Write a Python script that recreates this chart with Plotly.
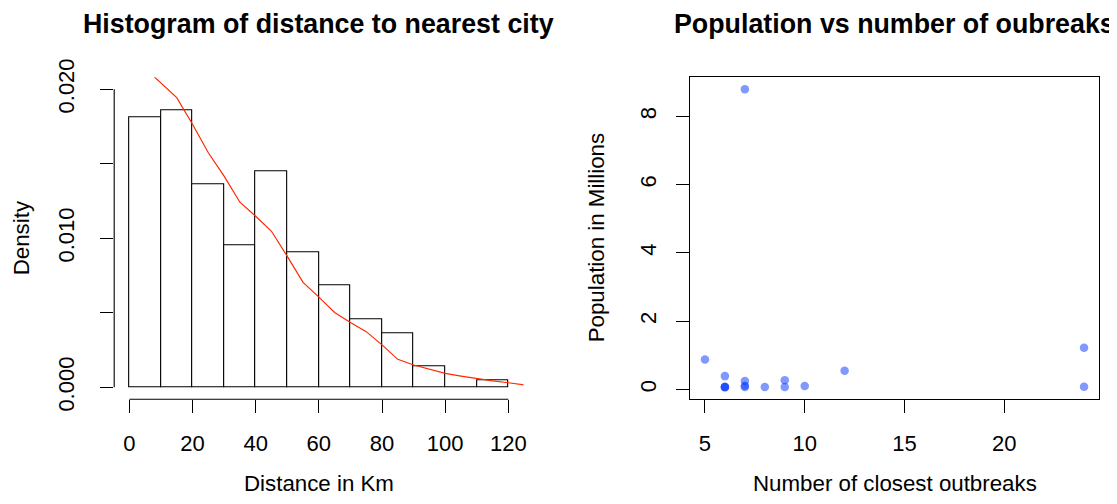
import plotly.graph_objects as go

# ---------------- data ----------------
# Histogram (density) of distance to nearest city, bins of 10 km
bin_left = [0, 10, 20, 30, 40, 50, 60, 70, 80, 90, 100, 110]
bin_width = 10
density = [0.01814, 0.01859, 0.01361, 0.00953, 0.01448, 0.00908,
           0.00682, 0.00457, 0.00363, 0.00139, 0.0, 0.00045]

# Kernel density estimate line (red)
kde_x = [5, 10, 15, 20, 25, 30, 35, 40, 45, 50, 55, 60, 65, 70, 75, 80,
         85, 90, 95, 100, 105, 110, 115, 120, 125]
kde_y = [0.02140, 0.02040, 0.01944, 0.01765, 0.01574, 0.01417, 0.01242,
         0.01148, 0.01047, 0.00879, 0.00704, 0.00605, 0.00502, 0.00435,
         0.00374, 0.00285, 0.00188, 0.00150, 0.00121, 0.00094, 0.00076,
         0.00058, 0.00043, 0.00031, 0.00016]

hist_xticks = [0, 20, 40, 60, 80, 100, 120]
hist_yticks = [0.0, 0.005, 0.010, 0.015, 0.020]
hist_yticktext = ["0.000", "", "0.010", "", "0.020"]

# Scatter: number of closest outbreaks vs population (millions)
outbreaks = [5, 6, 6, 6, 6, 7, 7, 7, 7, 8, 9, 9, 10, 12, 24, 24]
population = [0.88, 0.39, 0.08, 0.07, 0.06, 8.80, 0.25, 0.11, 0.07,
              0.07, 0.27, 0.07, 0.10, 0.55, 1.22, 0.08]

sc_xticks = [5, 10, 15, 20]
sc_yticks = [0, 2, 4, 6, 8]

# ---------------- layout helpers ----------------
PAGE_W, PAGE_H = 1117, 504
OFF = 8                       # default page body margin
W, H = PAGE_W - OFF, PAGE_H - 2 * OFF
FONT = "Liberation Sans, Arial, Helvetica, sans-serif"
TICK_FS = 22
LAB_FS = 22.3
TITLE_FS = 26.8

def px_x(p):
    return (p - OFF) / W

def px_y(p):
    return 1 - (p - OFF) / H

def ext(lo, hi, f=0.04):
    d = (hi - lo) * f
    return [lo - d, hi + d]

left_dom = [px_x(114.2), px_x(523.5)]
right_dom = [px_x(689.8), px_x(1099.2)]
y_dom = [px_y(399.3), px_y(77.3)]

fig = go.Figure()

# histogram bars
fig.add_trace(go.Bar(
    x=[b + bin_width / 2 for b in bin_left], y=density, width=bin_width,
    marker=dict(color="white", line=dict(color="black", width=1.1)),
    xaxis="x", yaxis="y", showlegend=False, hoverinfo="x+y"))

# density line
fig.add_trace(go.Scatter(
    x=kde_x, y=kde_y, mode="lines",
    line=dict(color="#ff2a00", width=1.2),
    xaxis="x", yaxis="y", showlegend=False))

# scatter points
fig.add_trace(go.Scatter(
    x=outbreaks, y=population, mode="markers",
    marker=dict(color="rgba(0,51,255,0.5)", size=8.5, line=dict(width=0)),
    xaxis="x2", yaxis="y2", showlegend=False))

tick_common = dict(ticks="outside", ticklen=13, tickwidth=1, tickcolor="black",
                   showgrid=False, zeroline=False, automargin=False,
                   tickfont=dict(family=FONT, size=TICK_FS, color="black"))

fig.update_layout(
    width=W, height=H,
    margin=dict(l=0, r=0, t=0, b=0, pad=0),
    paper_bgcolor="white", plot_bgcolor="white",
    bargap=0,
    xaxis=dict(domain=left_dom, range=ext(bin_left[0], bin_left[-1] + bin_width),
               anchor="y", tickvals=hist_xticks, showline=False,
               ticklabelstandoff=11, **tick_common),
    yaxis=dict(domain=y_dom, range=ext(hist_yticks[0], hist_yticks[-1]),
               anchor="x", tickvals=hist_yticks, ticktext=hist_yticktext,
               tickangle=-90, showline=False, ticklabelstandoff=17,
               **tick_common),
    xaxis2=dict(domain=right_dom, range=ext(min(outbreaks), max(outbreaks)),
                anchor="y2", tickvals=sc_xticks, showline=True, mirror=True,
                linecolor="black", linewidth=1.1,
                ticklabelstandoff=11, **tick_common),
    yaxis2=dict(domain=y_dom, range=ext(min(population), max(population)),
                anchor="x2", tickvals=sc_yticks, tickangle=-90,
                showline=True, mirror=True, linecolor="black", linewidth=1.1,
                ticklabelstandoff=11, **tick_common),
)

# R-style axis lines spanning only the tick range for the histogram
fig.add_shape(type="line", xref="x domain", yref="y", x0=0, x1=0,
              y0=hist_yticks[0], y1=hist_yticks[-1],
              line=dict(color="black", width=1.1))
fig.add_shape(type="line", xref="x", yref="y domain",
              x0=hist_xticks[0], x1=hist_xticks[-1], y0=0, y1=0,
              line=dict(color="black", width=1.1))

def ann(text, x, y, size, angle=0, bold=False):
    fig.add_annotation(
        text=f"<b>{text}</b>" if bold else text,
        x=x, y=y, xref="paper", yref="paper",
        xanchor="center", yanchor="middle", showarrow=False,
        textangle=angle,
        font=dict(family=FONT, size=size, color="black"))

lc = (114.2 + 523.5) / 2
rc = (689.8 + 1099.2) / 2
ymid = (77.3 + 399.3) / 2

ann("Histogram of distance to nearest city", px_x(lc), px_y(24), TITLE_FS, bold=True)
ann("Population vs number of oubreaks", px_x(rc), px_y(24), TITLE_FS, bold=True)
ann("Distance in Km", px_x(lc), px_y(483.5), LAB_FS)
ann("Number of closest outbreaks", px_x(rc), px_y(483.5), LAB_FS)
ann("Density", px_x(21), px_y(ymid), LAB_FS, angle=-90)
ann("Population in Millions", px_x(596), px_y(ymid), LAB_FS, angle=-90)

fig.write_html("out.html")
